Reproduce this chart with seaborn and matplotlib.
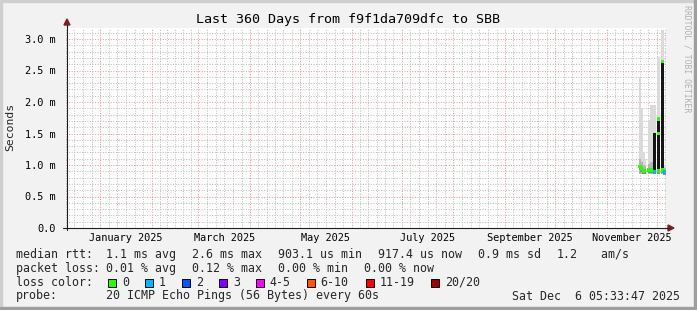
import numpy as np
import pandas as pd
import matplotlib
matplotlib.use("Agg")
import matplotlib.pyplot as plt
import matplotlib.dates as mdates
import matplotlib.ticker as mticker
import seaborn as sns
from matplotlib.patches import Rectangle, Polygon
from matplotlib.lines import Line2D

# ---------------- data ----------------
end_time = pd.Timestamp("2025-12-06 05:33:47")
span_days = 360

# samples (days before end of graph)
days_back = [15.3, 14.2, 13.3, 12.4, 9.9, 8.4, 6.5, 4.1, 1.6, 0.4]
smoke_top_ms = [2.40, 1.90, 1.20, 1.10, 1.71, 1.95, 1.95, 2.72, 3.14, 1.00]
smoke_mid_ms = [1.10, 1.05, 1.00, 0.98, 1.02, 1.05, 1.08, 1.08, 1.08, 0.96]
smoke_low_ms = [0.86, 0.85, 0.85, 0.85, 0.86, 0.86, 0.85, 0.85, 0.86, 0.86]
black_top_ms = [np.nan, np.nan, np.nan, np.nan, np.nan, np.nan, 1.51, 1.73, 2.67, np.nan]
median_ms = [0.97, 0.94, 0.91, 0.90, 0.92, 0.92, 0.90, 0.91, 0.92, 0.89]
loss_cat = ["0", "0", "0", "0", "0", "0", "1", "0", "0", "1"]

# extra median peaks inside consolidated pixels
peak_days_back = [4.3, 4.0, 1.7]
peak_ms = [1.50, 1.73, 2.64]
peak_loss = ["0", "0", "0"]

loss_labels = ["0", "1", "2", "3", "4-5", "6-10", "11-19", "20/20"]
loss_colors = ["#26ff00", "#00b8ff", "#0059ff", "#7e00ff", "#ff00ff", "#ff5500", "#ff0000", "#a10000"]

y_ticks_ms = [0.0, 0.5, 1.0, 1.5, 2.0, 2.5, 3.0]
y_tick_labels = ["0.0", "0.5 m", "1.0 m", "1.5 m", "2.0 m", "2.5 m", "3.0 m"]
x_label_months = ["2025-01", "2025-03", "2025-05", "2025-07", "2025-09", "2025-11"]

title = "Last 360 Days from f9f1da709dfc to SBB"
rtt_items = ["1.1 ms avg", "2.6 ms max", "903.1 us min", "917.4 us now", "0.9 ms sd", "1.2", " am/s"]
loss_items = ["0.01 % avg", "0.12 % max", "0.00 % min", "0.00 % now"]
probe_text = "20 ICMP Echo Pings (56 Bytes) every 60s"
stamp_text = "Sat Dec  6 05:33:47 2025"

# ---------------- figure ----------------
W, H = 697, 310
sns.set_style("white")
plt.rcParams["font.family"] = ["DejaVu Sans Mono"]
fig = plt.figure(figsize=(W / 100, H / 100), dpi=100, facecolor="#f2f2f2")

def fx(x):
    return x / W

def fy(y):
    return 1 - y / H

# frame shading
fig.patches.append(Rectangle((0, fy(2)), 1, 2 / H, transform=fig.transFigure, color="#cfcfcf", zorder=0))
fig.patches.append(Rectangle((0, 0), 2 / W, 1, transform=fig.transFigure, color="#cfcfcf", zorder=0))
fig.patches.append(Rectangle((0, 0), 1, 3 / H, transform=fig.transFigure, color="#9e9e9e", zorder=0))
fig.patches.append(Rectangle((fx(W - 3), 0), 3 / W, 1, transform=fig.transFigure, color="#9e9e9e", zorder=0))

left, right, top, bottom = 65.5, 665.5, 28, 228
ax = fig.add_axes([fx(left), fy(bottom), (right - left) / W, (bottom - top) / H])
ax.set_facecolor("white")

start_time = end_time - pd.Timedelta(days=span_days)
ymax = (bottom - top) / 63.0

# grid
month_starts = pd.date_range("2024-12-01", "2026-01-01", freq="MS")
minor_x = []
for i in range(len(month_starts) - 1):
    a, b = month_starts[i], month_starts[i + 1]
    for k in range(1, 6):
        minor_x.append(a + (b - a) * k / 6)
ax.xaxis.set_major_locator(mticker.FixedLocator(mdates.date2num(month_starts)))
ax.xaxis.set_minor_locator(mticker.FixedLocator(mdates.date2num(minor_x)))
ax.set_yticks(y_ticks_ms)
ax.set_yticklabels(y_tick_labels)
ax.yaxis.set_minor_locator(mticker.MultipleLocator(0.1))
ax.set_xticklabels([])

ax.grid(which="minor", color="#bdbdbd", linestyle=(0, (1, 1.6)), linewidth=0.72)
ax.grid(which="major", color="#e89696", linestyle=(0, (1, 1.6)), linewidth=0.72)
ax.set_axisbelow(True)

ax.tick_params(axis="y", which="major", length=3, width=0.7, color="#1f1f1f", pad=4,
               labelsize=7.4, labelcolor="black")
ax.tick_params(axis="y", which="minor", length=2, width=0.6, color="#bbbbbb")
ax.tick_params(axis="x", which="major", length=3, width=0.7, color="#e89696")
ax.tick_params(axis="x", which="minor", length=2, width=0.6, color="#bbbbbb")

for s in ["top", "right", "left", "bottom"]:
    ax.spines[s].set_visible(False)

# ---------------- data marks ----------------
times = [end_time - pd.Timedelta(days=d) for d in days_back]
df = pd.DataFrame({"time": times, "top": smoke_top_ms, "mid": smoke_mid_ms, "low": smoke_low_ms,
                   "black": black_top_ms, "median": median_ms, "loss": loss_cat})
bw = 1.7  # days
ax.bar(df["time"], df["top"] - df["low"], bottom=df["low"], width=bw, color="#dadada", linewidth=0, zorder=2)
ax.bar(df["time"], df["mid"] - df["low"], bottom=df["low"], width=bw, color="#b4b4b4", linewidth=0, zorder=3)
ax.bar(df["time"], [0.08] * len(df), bottom=df["median"] - 0.05,
       width=bw, color="#888888", linewidth=0, zorder=3)
bl = df.dropna(subset=["black"])
ax.bar(bl["time"], bl["black"] - bl["median"], bottom=bl["median"], width=1.8, color="#151515",
       linewidth=0, zorder=4)

palette = dict(zip(loss_labels, loss_colors))
ax.hlines(df["median"], [t - pd.Timedelta(days=bw / 2) for t in df["time"]],
          [t + pd.Timedelta(days=bw / 2) for t in df["time"]],
          colors=[palette[c] for c in df["loss"]], linewidth=1.8, zorder=5)
pk = pd.DataFrame({"time": [end_time - pd.Timedelta(days=d) for d in peak_days_back],
                   "median": peak_ms, "loss": peak_loss})
allmed = pd.concat([df[["time", "median", "loss"]], pk], ignore_index=True)
sns.scatterplot(data=allmed, x="time", y="median", hue="loss", palette=palette, marker="s",
                s=5, linewidth=0, legend=False, ax=ax, zorder=6)
ax.set_xlabel("")
ax.set_ylabel("")
ax.set_xlim(start_time, end_time)
ax.set_ylim(0, ymax)

# axes lines with arrows
fig.add_artist(Line2D([fx(67), fx(67)], [fy(230), fy(25)], color="#1f1f1f", lw=0.8, transform=fig.transFigure))
fig.add_artist(Line2D([fx(63), fx(669)], [fy(228), fy(228)], color="#1f1f1f", lw=0.8, transform=fig.transFigure))
fig.add_artist(Polygon([[fx(64), fy(25)], [fx(70), fy(25)], [fx(67), fy(19)]], closed=True,
                       color="#801f1f", transform=fig.transFigure))
fig.add_artist(Polygon([[fx(668), fy(225)], [fx(668), fy(231)], [fx(674), fy(228)]], closed=True,
                       color="#801f1f", transform=fig.transFigure))

# x labels at month midpoints
xt = ax.get_xaxis_transform()
for m in x_label_months:
    a = pd.Timestamp(m + "-01")
    b = a + pd.offsets.MonthBegin(1)
    mid = a + (b - a) / 2
    lbl = a.strftime("%B %Y")
    ax.text(mid, -(237.7 - bottom) / (bottom - top), lbl, transform=xt, ha="center", va="center",
            fontsize=7.4, color="black", clip_on=False)

# texts
fig.text(0.5, fy(19), title, ha="center", va="center", fontsize=9.6, color="black")
fig.text(fx(10), fy(127), "Seconds", rotation=90, ha="center", va="center", fontsize=8.2)
fig.text(fx(686.5), fy(5), "RRDTOOL / TOBI OETIKER", rotation=-90, ha="center", va="top",
         fontsize=5.9, color="#b0b0b0")

lf = 8.35
cw = 7.0  # px per character
gap = 16.0

def item_row(y, label, items, x0=106.0):
    fig.text(fx(15.5), fy(y), label, ha="left", va="center", fontsize=lf)
    x = x0
    for it in items:
        fig.text(fx(x), fy(y), it, ha="left", va="center", fontsize=lf)
        x += len(it) * cw + gap

item_row(254.3, "median rtt:", rtt_items)
item_row(268.3, "packet loss:", loss_items)
fig.text(fx(15.5), fy(282.3), "loss color:", ha="left", va="center", fontsize=lf)
box_x = [108, 145, 182, 219, 255.7, 306.7, 365.7, 431]
for bx, lab, col in zip(box_x, loss_labels, loss_colors):
    fig.patches.append(Rectangle((fx(bx), fy(286.5)), 8 / W, 8 / H, transform=fig.transFigure,
                                 facecolor=col, edgecolor="black", linewidth=0.7))
    fig.text(fx(bx + 14), fy(282.3), lab, ha="left", va="center", fontsize=lf)
fig.text(fx(15.5), fy(296), "probe:", ha="left", va="center", fontsize=lf)
fig.text(fx(106), fy(296), probe_text, ha="left", va="center", fontsize=lf)
fig.text(fx(680.5), fy(296), stamp_text, ha="right", va="center", fontsize=lf)

fig.savefig("out.png", dpi=100, facecolor=fig.get_facecolor())
